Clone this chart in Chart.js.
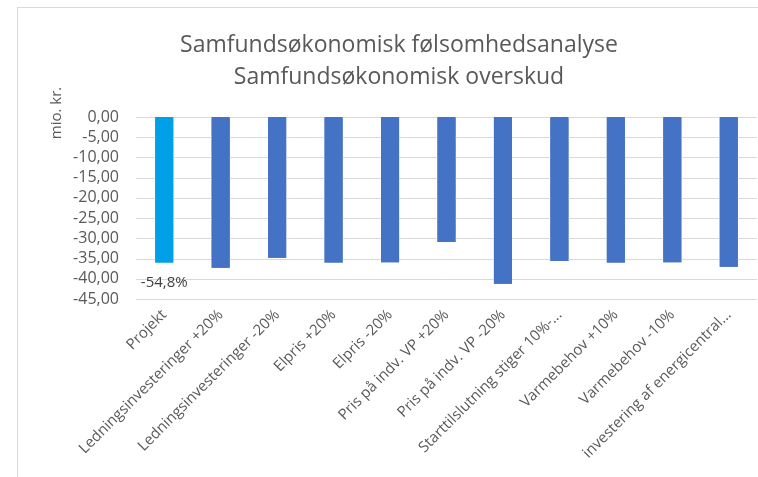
<!DOCTYPE html>
<html>
<head>
<meta charset="utf-8">
<script src="https://cdn.jsdelivr.net/npm/chart.js@4.4.1/dist/chart.umd.min.js"></script>
<style>
  html, body { margin: 0; padding: 0; background: #ffffff; }
  #wrap { width: 758px; height: 477px; position: relative; background: #ffffff; }
</style>
</head>
<body>
<div id="wrap"><canvas id="c" width="758" height="477"></canvas></div>
<script>
const categories = [
  "Projekt",
  "Ledningsinvesteringer +20%",
  "Ledningsinvesteringer -20%",
  "Elpris +20%",
  "Elpris -20%",
  "Pris på indv. VP +20%",
  "Pris på indv. VP -20%",
  "Starttilslutning stiger 10%-...",
  "Varmebehov +10%",
  "Varmebehov -10%",
  "investering af energicentral..."
];
const values = [-36.0, -37.3, -34.8, -36.0, -35.9, -30.9, -41.2, -35.6, -36.0, -35.9, -37.0];
const barColors = ["#00A0E9", "#4472C4", "#4472C4", "#4472C4", "#4472C4", "#4472C4", "#4472C4", "#4472C4", "#4472C4", "#4472C4", "#4472C4"];
const dataLabels = ["-54,8%", "", "", "", "", "", "", "", "", "", ""];
const titleLines = ["Samfundsøkonomisk følsomhedsanalyse", "Samfundsøkonomisk overskud"];
const yAxisTitle = "mio. kr.";
const yMin = -45, yMax = 0, yStep = 5;

const FONT = "'Open Sans', 'Liberation Sans', Arial, sans-serif";
const TEXT = "#595959";

const decor = {
  id: "decor",
  afterDraw(chart) {
    const ctx = chart.ctx;
    const ys = chart.scales.y;
    const area = chart.chartArea;
    ctx.save();
    ctx.globalCompositeOperation = "source-over";
    ctx.globalAlpha = 1;
    // horizontal gridlines
    ctx.strokeStyle = "#d9d9d9";
    ctx.lineWidth = 1;
    ys.ticks.forEach((t) => {
      const y = Math.round(ys.getPixelForValue(t.value)) + 0.5;
      ctx.beginPath();
      ctx.moveTo(area.left, y);
      ctx.lineTo(area.right, y);
      ctx.stroke();
    });
    ctx.restore();
    // bars back on top of the gridlines
    const meta = chart.getDatasetMeta(0);
    meta.data.forEach((el) => el.draw(ctx));
    ctx.save();
    ctx.fillStyle = "#404040";
    ctx.font = "15px " + FONT;
    ctx.textAlign = "center";
    ctx.textBaseline = "middle";
    meta.data.forEach((el, i) => {
      if (dataLabels[i]) ctx.fillText(dataLabels[i], el.x, el.y + 20);
    });
    // chart frame
    ctx.strokeStyle = "#d9d9d9";
    ctx.lineWidth = 1;
    ctx.strokeRect(17.5, 7.5, 800, 520);
    // titles
    ctx.fillStyle = TEXT;
    ctx.font = "23px " + FONT;
    ctx.fillText(titleLines[0], 399, 45);
    ctx.fillText(titleLines[1], 399, 77);
    ctx.font = "15px " + FONT;
    ctx.translate(57, 113);
    ctx.rotate(-Math.PI / 2);
    ctx.fillText(yAxisTitle, 0, 0);
    ctx.restore();
  }
};

new Chart(document.getElementById("c"), {
  type: "bar",
  data: {
    labels: categories,
    datasets: [{
      data: values,
      backgroundColor: barColors,
      borderWidth: 0,
      barPercentage: 0.64,
      categoryPercentage: 0.5
    }]
  },
  options: {
    responsive: false,
    animation: false,
    devicePixelRatio: 1,
    layout: { padding: { top: 117, right: 1, left: 0, bottom: 0 } },
    plugins: { legend: { display: false }, title: { display: false }, tooltip: { enabled: false } },
    scales: {
      x: {
        grid: { display: false, drawTicks: false },
        border: { display: false },
        ticks: {
          color: TEXT,
          font: { family: FONT, size: 15 },
          maxRotation: 45,
          minRotation: 45,
          autoSkip: false,
          padding: 7
        },
        afterFit(scale) { scale.height = 178; }
      },
      y: {
        min: yMin,
        max: yMax,
        grid: { display: false, drawTicks: false },
        border: { display: false },
        ticks: {
          stepSize: yStep,
          autoSkip: false,
          color: TEXT,
          font: { family: FONT, size: 16 },
          padding: 17,
          callback: (v) => v.toFixed(2).replace(".", ",")
        },
        afterFit(scale) { scale.width = 136; }
      }
    }
  },
  plugins: [decor]
});
</script>
</body>
</html>
